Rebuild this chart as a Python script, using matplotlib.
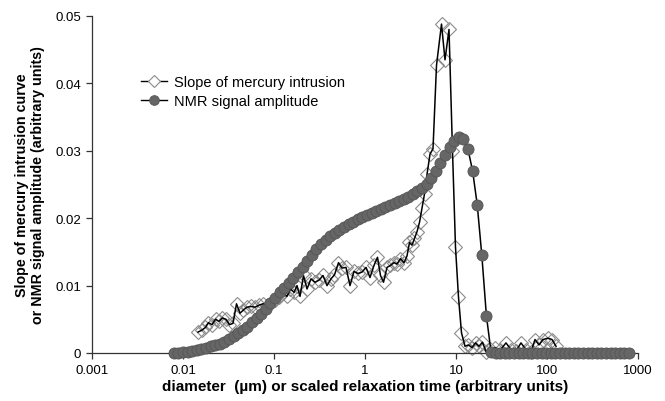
import numpy as np
import matplotlib
matplotlib.use("Agg")
import matplotlib.pyplot as plt
from matplotlib.lines import Line2D

plt.rcParams['font.family'] = ['Liberation Sans', 'DejaVu Sans']

# slope of mercury intrusion curve (diameter in um, slope)
hg_d = [0.01462, 0.01617, 0.01767, 0.01906, 0.02083, 0.02276, 0.02486, 0.02716,
        0.02969, 0.03243, 0.03544, 0.03872, 0.04230, 0.04622, 0.05050, 0.05589,
        0.06183, 0.06842, 0.07570, 0.08376, 0.09268, 0.1026, 0.1135, 0.1256,
        0.1389, 0.1518, 0.1659, 0.1790, 0.1931, 0.2110, 0.2305, 0.2550,
        0.2822, 0.3122, 0.3455, 0.3823, 0.4230, 0.4622, 0.5114, 0.5589,
        0.6183, 0.6842, 0.7570, 0.8377, 0.9269, 1.026, 1.135, 1.256,
        1.372, 1.480, 1.597, 1.745, 1.906, 2.083, 2.247, 2.455,
        2.683, 2.894, 3.083, 3.285, 3.499, 3.728, 3.972, 4.231,
        4.507, 4.801, 5.179, 5.588, 6.107, 6.929, 7.570, 8.377,
        9.152, 9.874, 10.65, 11.49, 12.56, 13.72, 14.99, 16.38,
        17.89, 19.55, 21.36, 23.64, 26.83, 30.45, 35.44, 40.22,
        45.63, 51.79, 58.77, 66.70, 73.81, 81.68, 90.37, 102.6,
        113.5, 125.6]
hg_slope = [0.0031, 0.0034, 0.0038, 0.0045, 0.0042, 0.0050, 0.0047, 0.0052,
            0.0050, 0.0042, 0.0044, 0.0073, 0.0059, 0.0064, 0.0068, 0.0069,
            0.0068, 0.0071, 0.0073, 0.0070, 0.0074, 0.0078, 0.0083, 0.0090,
            0.0084, 0.0095, 0.0090, 0.0100, 0.0084, 0.0115, 0.0095, 0.0110,
            0.0105, 0.0108, 0.0115, 0.0100, 0.0110, 0.0116, 0.0134, 0.0126,
            0.0127, 0.0100, 0.0121, 0.0118, 0.0120, 0.0127, 0.0112, 0.0130,
            0.0142, 0.0115, 0.0105, 0.0127, 0.0130, 0.0134, 0.0132, 0.0140,
            0.0134, 0.0144, 0.0164, 0.0160, 0.0170, 0.0180, 0.0194, 0.0215,
            0.0236, 0.0265, 0.0295, 0.0303, 0.0427, 0.0488, 0.0435, 0.0480,
            0.0300, 0.0157, 0.0083, 0.0030, 0.0010, 0.0012, 0.0008, 0.0015,
            0.0010, 0.0016, 0.0002, 0.0006, 0.0008, 0.0004, 0.0015, 0.0005,
            0.0003, 0.0015, 0.0005, 0.0002, 0.0020, 0.0012, 0.0020, 0.0022,
            0.0020, 0.0010]

# NMR signal amplitude (scaled relaxation time, amplitude)
nmr_t = [0.00794, 0.00892, 0.01002, 0.01126, 0.01265, 0.01421, 0.01596, 0.01793,
         0.02014, 0.02262, 0.02542, 0.02855, 0.03207, 0.03603, 0.04047, 0.04546,
         0.05107, 0.05737, 0.06444, 0.07239, 0.08132, 0.09134, 0.1026, 0.1152,
         0.1294, 0.1454, 0.1633, 0.1835, 0.2061, 0.2315, 0.2601, 0.2922,
         0.3282, 0.3687, 0.4142, 0.4652, 0.5226, 0.5871, 0.6595, 0.7409,
         0.8322, 0.9348, 1.050, 1.180, 1.325, 1.488, 1.672, 1.878,
         2.110, 2.370, 2.662, 2.990, 3.359, 3.774, 4.239, 4.762,
         5.349, 6.009, 6.750, 7.582, 8.517, 9.568, 10.75, 12.07,
         13.56, 15.23, 17.11, 19.22, 21.59, 24.25, 27.25, 30.61,
         34.38, 38.62, 43.39, 48.74, 54.75, 61.50, 69.08, 77.60,
         87.17, 97.9, 110.0, 123.6, 138.8, 155.9, 175.1, 196.7,
         221.0, 248.3, 278.8, 313.2, 351.9, 395.3, 444.0, 498.8,
         560.3, 629.4, 707.0, 794.3]
nmr_amp = [0.0, 0.0, 0.0001, 0.0002, 0.0003, 0.0004, 0.0006, 0.0008,
           0.0010, 0.0012, 0.0014, 0.0017, 0.0021, 0.0025, 0.0029, 0.0034,
           0.0039, 0.0046, 0.0052, 0.0058, 0.0066, 0.0074, 0.0082, 0.0090,
           0.0097, 0.0104, 0.0112, 0.0120, 0.0128, 0.0137, 0.0146, 0.0154,
           0.0162, 0.0168, 0.0173, 0.0178, 0.0182, 0.0187, 0.0191, 0.0195,
           0.0199, 0.0202, 0.0205, 0.0208, 0.0211, 0.0214, 0.0217, 0.0220,
           0.0223, 0.0226, 0.0229, 0.0232, 0.0236, 0.0240, 0.0245, 0.0251,
           0.0260, 0.0270, 0.0282, 0.0294, 0.0305, 0.0315, 0.0321, 0.0318,
           0.0302, 0.0270, 0.0220, 0.0145, 0.0055, 0.0002, 0.0, 0.0,
           0.0, 0.0, 0.0, 0.0, 0.0, 0.0, 0.0, 0.0,
           0.0, 0.0, 0.0, 0.0, 0.0, 0.0, 0.0, 0.0,
           0.0, 0.0, 0.0, 0.0, 0.0, 0.0, 0.0, 0.0,
           0.0, 0.0, 0.0, 0.0]

x_ticks = [0.001, 0.01, 0.1, 1, 10, 100, 1000]
x_labels = ['0.001', '0.01', '0.1', '1', '10', '100', '1000']
y_ticks = [0, 0.01, 0.02, 0.03, 0.04, 0.05]
y_labels = ['0', '0.01', '0.02', '0.03', '0.04', '0.05']

fig = plt.figure(figsize=(6.65, 4.02), dpi=100)
ax = fig.add_axes([92/665, 1 - 354/402, 546/665, 337/402])

ax.plot(hg_d, hg_slope, ls='none', marker='D', ms=7.5, mfc='none',
        mec='#8c8c8c', mew=0.8, zorder=2, clip_on=False)
ax.plot(hg_d, hg_slope, color='black', lw=1.1, zorder=3)
ax.plot(nmr_t, nmr_amp, color='black', lw=1.1, marker='o', ms=8,
        mfc='#666666', mec='#555555', mew=0.6, zorder=4, clip_on=False)

ax.set_xscale('log')
ax.set_xlim(0.001, 1000)
ax.set_ylim(0, 0.05)
ax.set_xticks(x_ticks)
ax.set_xticklabels(x_labels)
ax.minorticks_off()
ax.set_yticks(y_ticks)
ax.set_yticklabels(y_labels)
ax.tick_params(labelsize=9.5, length=4, width=0.9, color='#333333', pad=4)

for s in ['top', 'right']:
    ax.spines[s].set_visible(False)
for s in ['left', 'bottom']:
    ax.spines[s].set_color('#333333')
    ax.spines[s].set_linewidth(0.9)

ax.set_xlabel('diameter  (\u00b5m) or scaled relaxation time (arbitrary units)',
              fontsize=11, fontweight='bold', labelpad=2)
ax.set_ylabel('Slope of mercury intrusion curve\nor NMR signal amplitude (arbitrary units)',
              fontsize=10.3, fontweight='bold', labelpad=7)

h1 = Line2D([], [], color='black', lw=1.0, marker='D', ms=6, mfc='white',
            mec='#8c8c8c', mew=0.8)
h2 = Line2D([], [], color='black', lw=1.0, marker='o', ms=7,
            mfc='#666666', mec='#555555', mew=0.6)
ax.legend([h1, h2], ['Slope of mercury intrusion', 'NMR signal amplitude'],
          loc='upper left', bbox_to_anchor=(0.065, 0.865), frameon=False,
          fontsize=10.5, handlelength=1.8, handletextpad=0.5, labelspacing=0.35)

fig.savefig('out.png', dpi=100)
